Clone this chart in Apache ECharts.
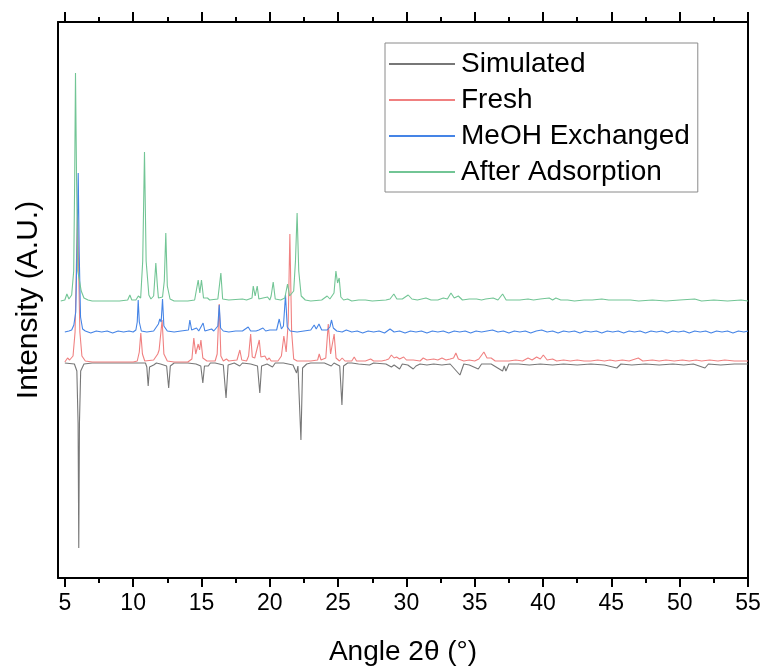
<!DOCTYPE html>
<html>
<head>
<meta charset="utf-8">
<script src="https://cdn.jsdelivr.net/npm/echarts@6/dist/echarts.min.js"></script>
<style>
html,body{margin:0;padding:0;background:#fff;}
#chart{width:765px;height:667px;}
</style>
</head>
<body>
<div id="chart"></div>
<script>
// ---- Data (angle 2θ, relative intensity in arbitrary units) ----
const seriesNames = ['Simulated', 'Fresh', 'MeOH Exchanged', 'After Adsorption'];
const majorTicks = [5, 10, 15, 20, 25, 30, 35, 40, 45, 50, 55];
const minorTicks = [7.5, 12.5, 17.5, 22.5, 27.5, 32.5, 37.5, 42.5, 47.5, 52.5];

// vertical offsets of each pattern (stacked display)
const simOffset = 215;
const freshOffset = 216;
const meohOffset = 246;
const adsOffset = 277;

const simulated = [
[5.0,0],[5.7,-1],[5.88,-8],[5.97,-60],[6.02,-185],[6.07,-60],[6.16,-8],[6.4,-1],[7,0],[8,0],[9,0],[10,0],
[10.9,0],[11.0,-4],[11.1,-23],[11.2,-4],[11.5,-2],[11.7,0],[12.0,-1],[12.45,-3],[12.6,-25],[12.72,-3],[13,0],[14,0],
[14.6,-1],[14.95,-3],[15.1,-20],[15.22,-3],[15.5,-3],[15.65,0],[16,0],[16.6,-2],[16.8,-35],[16.95,-2],[17.4,0],
[17.8,-3],[18,0],[18.6,-1],[19.1,-3],[19.27,-30],[19.4,-3],[19.8,-1],[20.2,-4],[20.4,0],[21,0],[21.7,-2],
[21.96,-10],[22.06,-3],[22.28,-77],[22.4,-5],[22.7,-1],[23,0],[24,0],[24.5,-3],[24.7,0],[25.12,-3],[25.28,-42],
[25.4,-3],[25.7,0],[26,0],[26.5,-1],[27.3,-2],[27.6,0],[28.5,-1],[28.9,-4],[29.1,-2],[29.5,-6],[29.7,-1],
[30.1,-2],[30.5,-6],[30.7,-3],[31.0,-1],[31.5,-2],[32.0,-1],[32.6,-2],[33.2,-1],[33.92,-12],[34.2,-1],[34.6,-2],
[35.26,-6],[35.5,-1],[36.2,-1],[37.04,-8],[37.16,-3],[37.28,-8],[37.5,-1],[38.2,-1],[39,-2],[39.8,-1],[40.7,-2],
[41.5,-1],[42.5,-2],[43.5,-1],[44.5,-2],[45.4,-5],[45.7,-1],[46.5,-2],[47.5,-1],[48.5,-2],[49.5,-1],[50.3,-2],
[51.0,-1],[51.85,-5],[52.1,-1],[53,-2],[54,-1],[55,-1]
];

const fresh = [
[5.0,0],[5.2,4],[5.35,2],[5.6,6],[5.75,30],[5.85,100],[5.93,153],[6.0,100],[6.1,30],[6.25,6],[6.5,1],[7,0],[8,0],
[9,0],[10,0],[10.3,1],[10.45,10],[10.56,29],[10.68,8],[10.85,1],[11.5,2],[11.8,8],[11.9,12],[12.0,10],[12.12,42],
[12.25,8],[12.5,1],[13,0],[14,0],[14.3,3],[14.44,24],[14.58,8],[14.76,18],[14.86,12],[14.96,22],[15.1,4],[15.4,1],
[16.0,1],[16.15,8],[16.3,58],[16.42,6],[16.6,1],[16.83,3],[17.0,1],[17.6,2],[17.81,12],[17.95,2],[18.3,1],[18.45,6],
[18.6,28],[18.72,5],[18.9,4],[19.0,3],[19.23,22],[19.35,5],[19.64,6],[19.8,2],[19.96,4],[20.1,1],[20.6,1],[20.85,6],
[21.03,26],[21.2,10],[21.35,40],[21.47,128],[21.6,30],[21.75,3],[22.0,1],[23.0,1],[23.5,2],[23.62,8],[23.75,2],
[24.1,4],[24.28,38],[24.45,8],[24.58,10],[24.71,28],[24.85,4],[25.1,1],[25.3,4],[25.5,1],[26.0,1],[26.18,5],[26.35,1],
[27.0,1],[27.38,3],[27.6,1],[28.2,1],[28.5,2],[28.7,3],[28.9,7],[29.1,4],[29.28,5],[29.5,3],[29.8,5],[30.0,2],
[30.5,2],[31.0,1],[31.23,4],[31.5,2],[32.0,3],[32.3,2],[32.6,4],[32.9,2],[33.2,3],[33.45,4],[33.62,9],[33.8,3],
[34.2,1],[34.6,2],[35.0,1],[35.3,3],[35.67,10],[35.9,4],[36.2,4],[36.5,1],[37.0,1],[37.5,1],[38.0,2],[38.5,1],
[38.9,4],[39.2,2],[39.53,5],[39.8,3],[40.02,7],[40.3,2],[40.7,3],[41.0,1],[41.5,2],[42.0,1],[42.5,2],[43,1],
[43.5,1],[44,2],[44.5,1],[44.9,2],[45.3,1],[45.8,2],[46.3,1],[46.97,4],[47.3,1],[48,2],[48.5,1],[49,2],[49.6,1],
[50.2,2],[50.7,1],[51.2,2],[51.6,1],[52.2,2],[52.8,1],[53.3,2],[54,1],[54.5,1],[55,1]
];

const meoh = [
[5.0,0],[5.3,1],[5.5,2],[5.66,7],[5.8,20],[5.9,90],[5.98,159],[6.05,80],[6.15,15],[6.3,3],[6.5,1],[6.9,-1],[7.3,1],
[7.7,0],[8.1,1],[8.5,-1],[8.9,1],[9.3,0],[9.7,1],[10.0,0],[10.2,2],[10.3,10],[10.37,32],[10.45,10],[10.6,1],[11,0],
[11.5,1],[11.85,8],[11.95,13],[12.05,10],[12.15,33],[12.25,6],[12.5,1],[13,0],[13.5,1],[14.05,2],[14.15,12],[14.28,2],
[14.64,4],[14.8,1],[15.12,9],[15.25,1],[15.74,3],[15.9,1],[16.2,6],[16.3,27],[16.4,4],[16.6,1],[17,0],[17.5,1],
[18,1],[18.42,5],[18.6,1],[19.0,1],[19.2,2],[19.5,4],[19.7,1],[20.0,2],[20.5,2],[20.69,13],[20.85,3],[21.0,6],
[21.15,37],[21.28,5],[21.5,1],[22,0],[22.5,1],[23.0,2],[23.25,7],[23.4,3],[23.6,8],[23.8,2],[24.2,2],[24.4,5],
[24.52,12],[24.65,4],[24.9,1],[25.3,0],[25.6,2],[26,0],[26.4,1],[26.8,-1],[27.2,1],[27.6,0],[28,1],[28.4,-1],
[28.8,3],[29.1,0],[29.5,1],[29.9,-1],[30.3,1],[30.7,0],[31.1,1],[31.5,-1],[31.9,1],[32.3,0],[32.7,1],[33.1,-1],
[33.5,1],[33.9,0],[34.3,1],[34.7,-1],[35.1,1],[35.5,0],[35.9,1],[36.3,2],[36.7,0],[37.1,1],[37.5,-1],[37.9,1],
[38.3,0],[38.7,1],[39.1,-1],[39.5,1],[39.9,2],[40.3,0],[40.7,1],[41.1,-1],[41.5,1],[41.9,0],[42.3,1],[42.7,-1],
[43.1,1],[43.5,0],[43.9,1],[44.3,-1],[44.7,1],[45.1,0],[45.5,1],[45.9,-1],[46.3,1],[46.7,0],[47.1,1],[47.5,-1],
[47.9,1],[48.3,0],[48.7,1],[49.1,-1],[49.5,1],[49.9,0],[50.3,1],[50.7,-1],[51.1,1],[51.5,0],[51.9,1],[52.3,-1],
[52.7,1],[53.1,0],[53.5,1],[53.9,-1],[54.3,1],[54.7,0],[55,1]
];

const afterAds = [
[4.7,0],[5.0,1],[5.15,7],[5.3,2],[5.5,6],[5.65,30],[5.72,120],[5.78,228],[5.86,120],[5.95,30],[6.1,18],[6.2,10],
[6.4,3],[6.7,1],[7,0],[8,0],[9,0],[9.6,1],[9.76,6],[9.9,1],[10.2,1],[10.38,5],[10.55,3],[10.7,40],[10.83,149],
[10.95,40],[11.15,6],[11.3,2],[11.5,5],[11.66,38],[11.78,14],[11.85,3],[12.15,4],[12.28,20],[12.39,68],[12.5,15],
[12.7,2],[13,0],[14,0],[14.5,1],[14.76,21],[14.88,8],[15.0,21],[15.15,3],[15.44,3],[15.6,1],[16.2,2],[16.42,28],
[16.55,2],[17,1],[18,2],[18.3,1],[18.7,3],[18.79,15],[18.93,5],[19.08,15],[19.2,2],[19.5,3],[19.84,4],[20.0,1],
[20.1,5],[20.25,19],[20.4,2],[20.8,1],[21.1,3],[21.3,17],[21.45,5],[21.75,10],[21.88,40],[22.0,88],[22.12,30],
[22.3,5],[22.6,1],[23,0],[23.8,1],[24.2,5],[24.4,2],[24.7,8],[24.84,30],[24.96,18],[25.08,23],[25.2,4],[25.4,1],
[25.7,2],[26,0],[26.5,1],[27,1],[27.5,0],[28.5,1],[28.8,2],[29.08,7],[29.3,2],[29.7,2],[30.13,6],[30.4,2],[30.8,1],
[31.43,3],[31.8,1],[32.3,1],[32.7,3],[33.0,2],[33.26,8],[33.5,3],[33.8,5],[34.1,1],[34.6,2],[35.14,2],[35.5,1],
[35.8,2],[36.35,3],[36.7,1],[37.04,7],[37.3,1],[37.8,1],[38.3,1],[38.9,2],[39.3,1],[39.8,2],[40.45,3],[40.7,1],
[40.94,3],[41.3,1],[41.8,1],[42.3,0],[43,1],[43.6,1],[44.3,2],[44.8,1],[45.5,1],[46.4,1],[47,0],[48,1],[49,0],
[50,1],[51.1,2],[51.6,0],[52.5,1],[53.5,0],[54.5,1],[55,0]
];

// ---- Build ----
function shift(arr, off) { return arr.map(p => [p[0], p[1] + off]); }

const colors = ['#777777', '#f08080', '#4584e6', '#72c595'];
const FONT = "'Liberation Sans', Arial, sans-serif";

const chart = echarts.init(document.getElementById('chart'), null, {renderer: 'canvas'});

const axisBase = {
  type: 'value', min: 4.5, max: 55,
  splitLine: {show: false}
};
const gridBox = {left: 58, right: 17, top: 22, bottom: 89, outerBoundsMode: 'none', containLabel: false};

const option = {
  animation: false,
  backgroundColor: '#fff',
  grid: [Object.assign({}, gridBox), Object.assign({}, gridBox)],
  legend: {
    orient: 'vertical',
    left: 385, top: 43,
    padding: [7, 8, 6, 4],
    itemGap: 8,
    itemWidth: 66, itemHeight: 2,
    icon: 'rect',
    borderColor: '#8a8a8a', borderWidth: 1,
    textStyle: {fontFamily: FONT, fontSize: 28, color: '#000', padding: [0, 0, 0, 1]},
    data: seriesNames
  },
  xAxis: [
    Object.assign({}, axisBase, {
      gridIndex: 0, position: 'bottom',
      axisLine: {show: true, onZero: false, lineStyle: {color: '#000', width: 2}},
      axisTick: {show: true, inside: false, length: 9, lineStyle: {color: '#000', width: 2}, customValues: majorTicks},
      axisLabel: {show: true, customValues: majorTicks, fontFamily: FONT, fontSize: 23, color: '#000', margin: 14},
      name: 'Angle 2θ (°)', nameLocation: 'middle', nameGap: 60,
      nameTextStyle: {fontFamily: FONT, fontSize: 28, color: '#000'}
    }),
    Object.assign({}, axisBase, {
      gridIndex: 0, position: 'top',
      axisLine: {show: true, onZero: false, lineStyle: {color: '#000', width: 2}},
      axisTick: {show: true, inside: false, length: 10, lineStyle: {color: '#000', width: 2}, customValues: majorTicks},
      axisLabel: {show: false}
    }),
    Object.assign({}, axisBase, {
      gridIndex: 1, position: 'bottom',
      axisLine: {show: false, onZero: false},
      axisTick: {show: true, inside: false, length: 5, lineStyle: {color: '#000', width: 2}, customValues: minorTicks},
      axisLabel: {show: false}
    }),
    Object.assign({}, axisBase, {
      gridIndex: 1, position: 'top',
      axisLine: {show: false, onZero: false},
      axisTick: {show: true, inside: false, length: 5, lineStyle: {color: '#000', width: 2}, customValues: minorTicks},
      axisLabel: {show: false}
    })
  ],
  yAxis: [
    {
      gridIndex: 0, type: 'value', min: 0, max: 556, position: 'left',
      axisLine: {show: true, onZero: false, lineStyle: {color: '#000', width: 2}},
      axisTick: {show: false}, axisLabel: {show: false}, splitLine: {show: false},
      name: 'Intensity (A.U.)', nameLocation: 'middle', nameGap: 14, nameRotate: 90,
      nameTextStyle: {fontFamily: FONT, fontSize: 30, color: '#000'}
    },
    {
      gridIndex: 0, type: 'value', min: 0, max: 556, position: 'right',
      axisLine: {show: true, onZero: false, lineStyle: {color: '#000', width: 2}},
      axisTick: {show: false}, axisLabel: {show: false}, splitLine: {show: false}
    },
    {
      gridIndex: 1, type: 'value', min: 0, max: 556, show: false
    }
  ],
  series: [
    {name: seriesNames[0], data: shift(simulated, simOffset), color: colors[0]},
    {name: seriesNames[1], data: shift(fresh, freshOffset), color: colors[1]},
    {name: seriesNames[2], data: shift(meoh, meohOffset), color: colors[2]},
    {name: seriesNames[3], data: shift(afterAds, adsOffset), color: colors[3]}
  ].map(s => Object.assign({
    type: 'line', xAxisIndex: 0, yAxisIndex: 0,
    showSymbol: false, symbol: 'none', smooth: false,
    lineStyle: {width: 1.1},
    emphasis: {disabled: true}
  }, s))
};
chart.setOption(option);
</script>
</body>
</html>
